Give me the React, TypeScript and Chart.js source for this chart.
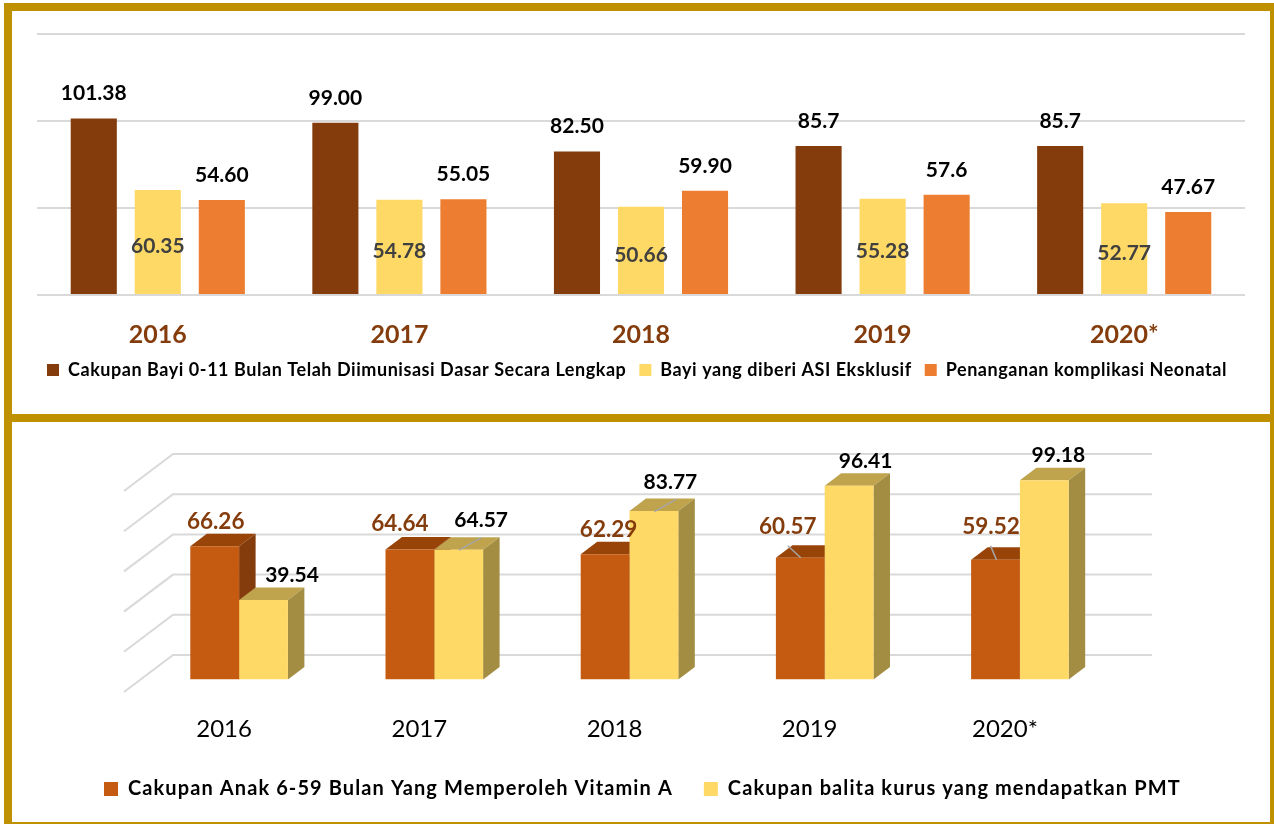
import React, { useEffect, useRef } from "react";
import { Chart, registerables } from "chart.js";

Chart.register(...registerables);

const FONT = "Lato, Carlito, sans-serif";

const topYears = ["2016", "2017", "2018", "2019", "2020*"];
const imunisasi = [101.38, 99.0, 82.5, 85.7, 85.7];
const imunisasiText = ["101.38", "99.00", "82.50", "85.7", "85.7"];
const asi = [60.35, 54.78, 50.66, 55.28, 52.77];
const asiText = ["60.35", "54.78", "50.66", "55.28", "52.77"];
const neonatal = [54.6, 55.05, 59.9, 57.6, 47.67];
const neonatalText = ["54.60", "55.05", "59.90", "57.6", "47.67"];

const bottomYears = ["2016", "2017", "2018", "2019", "2020*"];
const vitaminA = [66.26, 64.64, 62.29, 60.57, 59.52];
const pmt = [39.54, 64.57, 83.77, 96.41, 99.18];

const vitaminNudge = [[1, -25], [-10, -25.5], [3.5, -25], [-12.5, -31], [-4.5, -33]];
const pmtNudge = [[28.5, -25], [22.5, -29.5], [16.5, -29], [16.5, -24], [14, -24.5]];
const vitaminLeader = [null, null, null, [-12.5, -12, 0.5, 0], [-5, -14, 1, 0]];
const pmtLeader = [null, [0.5, 0.5, 22.5, -12], [0.5, 0.5, 22.5, -12], null, null];

const DEPTH_X = 16.5;
const DEPTH_Y = 12.5;
const WALL_BACK_X = 31.5;
const WALL_BACK_Y = 24.5;

const topLabels = {
  id: "topLabels",
  afterDatasetsDraw(chart: any) {
    const { ctx } = chart;
    ctx.save();
    ctx.textAlign = "center";
    ctx.textBaseline = "middle";
    chart.data.datasets.forEach((ds: any, d: number) => {
      const meta = chart.getDatasetMeta(d);
      meta.data.forEach((bar: any, i: number) => {
        ctx.font = `700 21px ${FONT}`;
        if (ds.inside) {
          ctx.fillStyle = "#404040";
          ctx.fillText(ds.texts[i], bar.x, (bar.y + bar.base) / 2 + 4.5);
        } else {
          ctx.fillStyle = "#000000";
          ctx.fillText(ds.texts[i], bar.x, bar.y - 25);
        }
      });
    });
    ctx.restore();
  },
};

// Native legend, with wide letter spacing, one row, and a fixed place.
const legendPlace = {
  id: "legendPlace",
  beforeLayout(chart: any, _a: any, opts: any) {
    const l = chart.legend;
    if (!l || l.__patched) return;
    l.__patched = true;
    const fit = l.fit;
    const draw = l.draw;
    l.fit = function () {
      this.maxWidth = 4000;
      this.ctx.letterSpacing = opts.spacing;
      fit.call(this);
      this.ctx.letterSpacing = "0px";
      this.height = opts.reserve;
    };
    l.draw = function () {
      this.ctx.letterSpacing = opts.spacing;
      draw.call(this);
      this.ctx.letterSpacing = "0px";
    };
  },
  afterLayout(chart: any, _a: any, opts: any) {
    const l = chart.legend;
    l.left = opts.x;
    l.right = chart.width;
    l.top = opts.y;
    l.bottom = Math.min(chart.height, opts.y + 80);
  },
};

const walls3d = {
  id: "walls3d",
  beforeDatasetsDraw(chart: any) {
    const { ctx, chartArea } = chart;
    const y = chart.scales.y;
    ctx.save();
    ctx.strokeStyle = "#D9D9D9";
    ctx.lineWidth = 2;
    y.ticks.forEach((t: any) => {
      const py = y.getPixelForValue(t.value);
      ctx.beginPath();
      ctx.moveTo(chartArea.left - 17.5, py + 12.5);
      ctx.lineTo(chartArea.left + WALL_BACK_X, py - WALL_BACK_Y);
      ctx.lineTo(chartArea.right + 34.5, py - WALL_BACK_Y);
      ctx.stroke();
    });
    chart.data.datasets.forEach((ds: any, d: number) => {
      chart.getDatasetMeta(d).data.forEach((bar: any) => {
        const half = bar.width / 2;
        const l = bar.x - half;
        const r = bar.x + half;
        ctx.fillStyle = ds.topColor;
        ctx.beginPath();
        ctx.moveTo(l, bar.y);
        ctx.lineTo(l + DEPTH_X, bar.y - DEPTH_Y);
        ctx.lineTo(r + DEPTH_X, bar.y - DEPTH_Y);
        ctx.lineTo(r, bar.y);
        ctx.closePath();
        ctx.fill();
        ctx.fillStyle = ds.sideColor;
        ctx.beginPath();
        ctx.moveTo(r, bar.y);
        ctx.lineTo(r + DEPTH_X, bar.y - DEPTH_Y);
        ctx.lineTo(r + DEPTH_X, bar.base - DEPTH_Y);
        ctx.lineTo(r, bar.base);
        ctx.closePath();
        ctx.fill();
      });
    });
    ctx.restore();
  },
  afterDatasetsDraw(chart: any) {
    const { ctx } = chart;
    ctx.save();
    ctx.textAlign = "center";
    ctx.textBaseline = "middle";
    chart.data.datasets.forEach((ds: any, d: number) => {
      chart.getDatasetMeta(d).data.forEach((bar: any, i: number) => {
        const lead = ds.leaders[i];
        if (lead) {
          ctx.strokeStyle = "#A6A6A6";
          ctx.lineWidth = 1.5;
          ctx.beginPath();
          ctx.moveTo(bar.x + lead[0], bar.y + lead[1]);
          ctx.lineTo(bar.x + lead[2], bar.y + lead[3]);
          ctx.stroke();
        }
        ctx.font = `700 ${ds.labelSize}px ${FONT}`;
        ctx.fillStyle = ds.labelColor;
        ctx.fillText(ds.data[i].toFixed(2), bar.x + ds.nudge[i][0], bar.y + ds.nudge[i][1]);
      });
    });
    ctx.restore();
  },
};

const axisFit = (h: number) => (s: any) => {
  s.height = h;
  s.paddingLeft = 0;
  s.paddingRight = 0;
};

export default function App() {
  const topRef = useRef<HTMLCanvasElement>(null);
  const botRef = useRef<HTMLCanvasElement>(null);

  useEffect(() => {
    const top = new Chart(topRef.current as any, {
      type: "bar",
      data: {
        labels: topYears,
        datasets: [
          { label: "Cakupan Bayi 0-11 Bulan Telah Diimunisasi Dasar Secara Lengkap", data: imunisasi, backgroundColor: "#843C0C", texts: imunisasiText } as any,
          { label: "Bayi yang diberi ASI Eksklusif", data: asi, backgroundColor: "#FFD966", texts: asiText, inside: true } as any,
          { label: "Penanganan komplikasi Neonatal", data: neonatal, backgroundColor: "#ED7D31", texts: neonatalText } as any,
        ],
      },
      options: {
        responsive: false,
        animation: false,
        layout: { padding: { left: 37, right: 29, top: 34, bottom: 6 } },
        datasets: { bar: { categoryPercentage: 0.795, barPercentage: 0.72 } },
        scales: {
          x: {
            afterFit: axisFit(73),
            grid: { display: false },
            border: { display: false },
            ticks: { color: "#843C0C", font: { family: FONT, size: 25, weight: "700" }, padding: 17, maxRotation: 0, autoSkip: false },
          },
          y: {
            min: 0,
            max: 150,
            grid: { color: "#D9D9D9", lineWidth: 2, drawTicks: false },
            border: { display: false },
            ticks: { display: false, stepSize: 50 },
          },
        },
        plugins: {
          tooltip: { enabled: false },
          legendPlace: { x: 34, y: 348, spacing: "0.55px", reserve: 40 },
          legend: {
            position: "bottom",
            align: "start",
            labels: { boxWidth: 12, boxHeight: 12, padding: 13, color: "#000000", font: { family: FONT, size: 18, weight: "700" } },
          },
        } as any,
      },
      plugins: [topLabels, legendPlace],
    } as any);

    const bottom = new Chart(botRef.current as any, {
      type: "bar",
      data: {
        labels: bottomYears,
        datasets: [
          { label: "Cakupan Anak 6-59 Bulan Yang Memperoleh Vitamin A", data: vitaminA, backgroundColor: "#C55A11", topColor: "#984409", sideColor: "#843C0C", labelColor: "#843C0C", labelSize: 22.5, nudge: vitaminNudge, leaders: vitaminLeader } as any,
          { label: "Cakupan balita kurus yang mendapatkan PMT", data: pmt, backgroundColor: "#FFD966", topColor: "#BFA34D", sideColor: "#A38D42", labelColor: "#000000", labelSize: 21, nudge: pmtNudge, leaders: pmtLeader } as any,
        ],
      },
      options: {
        responsive: false,
        animation: false,
        layout: { padding: { left: 133.5, right: 156.5, top: 64.5, bottom: 6 } },
        datasets: { bar: { categoryPercentage: 0.5, barPercentage: 1 } },
        scales: {
          x: {
            afterFit: axisFit(98.5),
            grid: { display: false },
            border: { display: false },
            ticks: { color: "#000000", font: { family: FONT, size: 24, weight: "400" }, padding: 27.5, labelOffset: -15, maxRotation: 0, autoSkip: false },
          },
          y: {
            min: 0,
            max: 100,
            grid: { display: false },
            border: { display: false },
            ticks: { display: false, stepSize: 20 },
          },
        },
        plugins: {
          tooltip: { enabled: false },
          legendPlace: { x: 73, y: 334, spacing: "1.1px", reserve: 40 },
          legend: {
            position: "bottom",
            align: "start",
            labels: { boxWidth: 14, boxHeight: 14, padding: 31, color: "#000000", font: { family: FONT, size: 20, weight: "700" } },
          },
        } as any,
      },
      plugins: [walls3d, legendPlace],
    } as any);

    return () => {
      top.destroy();
      bottom.destroy();
    };
  }, []);

  const bar = (l: number, t: number, w: number, h: number) => (
    <div style={{ position: "absolute", left: l, top: t, width: w, height: h, background: "#BF9000" }} />
  );

  return (
    <div style={{ position: "absolute", left: 0, top: 0, width: 1274, height: 824, background: "#fff", overflow: "hidden" }}>
      <canvas ref={topRef} width={1274} height={414} style={{ position: "absolute", left: 0, top: 0 }} />
      <canvas ref={botRef} width={1274} height={410} style={{ position: "absolute", left: 0, top: 414 }} />
      {bar(4, 3, 1270, 8)}
      {bar(4, 3, 8, 821)}
      {bar(1270, 3, 4, 821)}
      {bar(4, 414, 1270, 8)}
      {bar(4, 822, 1270, 2)}
    </div>
  );
}
